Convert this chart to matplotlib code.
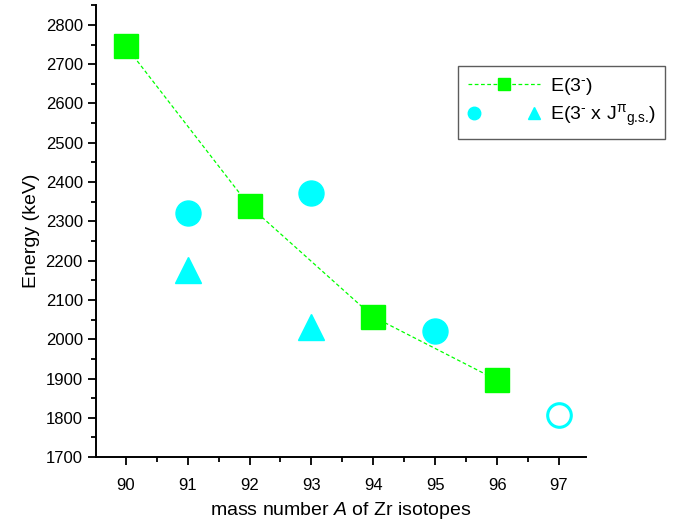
import matplotlib
matplotlib.use('Agg')
import matplotlib.pyplot as plt
from matplotlib.ticker import MultipleLocator
from matplotlib.legend_handler import HandlerTuple

plt.rcParams['font.family'] = ['Liberation Sans', 'DejaVu Sans']
plt.rcParams['mathtext.fontset'] = 'custom'
plt.rcParams['mathtext.rm'] = 'Liberation Sans'
plt.rcParams['mathtext.it'] = 'Liberation Sans:italic'

# E(3-) states in even isotopes
A_even = [90, 92, 94, 96]
E_even = [2746, 2339, 2057, 1896]
# E(3- x J) multiplet centroids, odd isotopes
A_circ = [91, 93, 95]
E_circ = [2320, 2373, 2020]
A_tri = [91, 93]
E_tri = [2175, 2030]
# open circle (97Zr)
A_open = [97]
E_open = [1806]

green = '#00ff00'
cyan = '#00ffff'


def main():
    fig = plt.figure(figsize=(6.73, 5.26), dpi=100)
    ax = fig.add_axes([0.1427, 0.131, 0.7283, 0.859])

    ax.plot(A_even, E_even, color=green, ls=(0, (3, 2)), lw=0.9,
            marker='s', ms=17, mfc=green, mec=green)
    ax.plot(A_circ, E_circ, ls='none', marker='o', ms=18,
            mfc=cyan, mec=cyan)
    ax.plot(A_tri, E_tri, ls='none', marker='^', ms=19,
            mfc=cyan, mec=cyan)
    ax.plot(A_open, E_open, ls='none', marker='o', ms=17, mfc='none',
            mec=cyan, mew=2.2)

    ax.set_xlim(89.52, 97.44)
    ax.set_ylim(1700, 2850)
    ax.xaxis.set_major_locator(MultipleLocator(1))
    ax.xaxis.set_minor_locator(MultipleLocator(0.5))
    ax.yaxis.set_minor_locator(MultipleLocator(50))
    ax.set_yticks(range(1700, 2801, 100))
    ax.tick_params(which='both', direction='out', width=1.3, labelsize=12)
    ax.tick_params(which='major', length=6)
    ax.tick_params(which='minor', length=3.5)
    ax.tick_params(axis='x', which='major', pad=9)
    for s in ['top', 'right']:
        ax.spines[s].set_visible(False)
    for s in ['left', 'bottom']:
        ax.spines[s].set_linewidth(1.4)

    ax.set_xlabel('mass number $\\mathit{A}$ of Zr isotopes', fontsize=14,
                  labelpad=5)
    ax.set_ylabel('Energy (keV)', fontsize=14)

    sq_handle = plt.Line2D([], [], color=green, ls=(0, (3, 2)), lw=0.9,
                           marker='s', ms=8, mfc=green, mec=green)
    ci_h = plt.Line2D([], [], ls='none', marker='o', ms=9, mfc=cyan, mec=cyan)
    tr_h = plt.Line2D([], [], ls='none', marker='^', ms=9, mfc=cyan, mec=cyan)
    leg = fig.legend([sq_handle, (ci_h, tr_h)],
                     ['E(3$^{\\text{-}}$)',
                      'E(3$^{\\text{-}}$ x J$^{\\text{π}}$$_{\\text{g.s.}}$)'],
                     handler_map={tuple: HandlerTuple(ndivide=None, pad=2.5)},
                     loc='upper left', bbox_to_anchor=(0.681, 0.874),
                     fontsize=14, frameon=True, fancybox=False,
                     edgecolor='#333333', handlelength=3.7,
                     handletextpad=0.5, labelspacing=0.3,
                     borderpad=0.5, borderaxespad=0)
    leg.get_frame().set_linewidth(1.0)

    fig.savefig('out.png', dpi=100)


if __name__ == '__main__':
    main()
